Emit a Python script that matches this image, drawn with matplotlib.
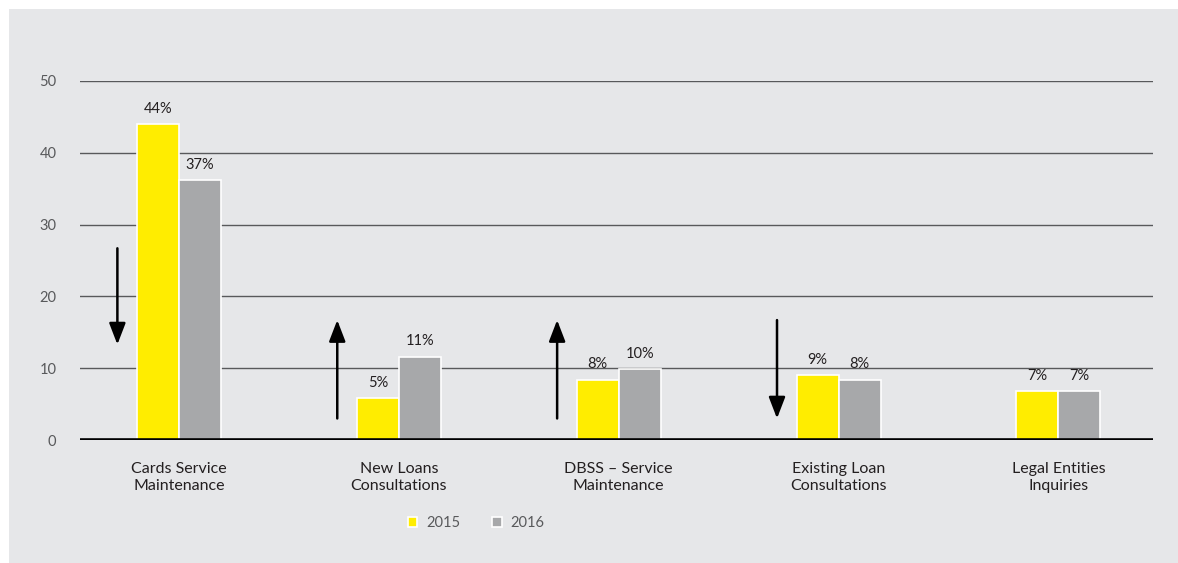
import matplotlib
matplotlib.use("Agg")
import matplotlib.pyplot as plt
from matplotlib.patches import Rectangle
import numpy as np

categories = ["Cards Service\nMaintenance", "New Loans\nConsultations", "DBSS – Service\nMaintenance",
              "Existing Loan\nConsultations", "Legal Entities\nInquiries"]
series_names = ["2015", "2016"]
values_2015 = [44.0, 5.8, 8.4, 9.0, 6.8]
values_2016 = [36.2, 11.6, 9.9, 8.4, 6.8]
labels_2015 = ["44%", "5%", "8%", "9%", "7%"]
labels_2016 = ["37%", "11%", "10%", "8%", "7%"]
# trend arrows: (start, end) in data units, None = no arrow
arrows = [(26.7, 13.3), (3.0, 16.7), (3.0, 16.7), (16.7, 3.0), None]
yticks = [0, 10, 20, 30, 40, 50]

YELLOW = "#ffed00"
GRAY = "#a7a8aa"
BG = "#e6e7e9"
FONT = ["Lato", "DejaVu Sans"]

plt.rcParams["font.family"] = FONT

fig = plt.figure(figsize=(11.78, 5.63), dpi=100)
fig.patch.set_facecolor("white")
bg = Rectangle((9 / 1178, 0), 1 - 9 / 1178, 1 - 9 / 563, transform=fig.transFigure,
               facecolor=BG, edgecolor="none", zorder=-10)
fig.add_artist(bg)

ax = fig.add_axes([80 / 1178, 1 - 440 / 563, (1153 - 80) / 1178, (440 - 81) / 563])
ax.set_facecolor("none")
ax.set_zorder(1)

x = np.arange(len(categories))
w = 0.191
ax.set_xlim(-0.45, 4.43)
ax.set_ylim(0, 50)

for yv in yticks[1:]:
    ax.axhline(yv, color="#58595b", lw=1.0, zorder=1)
ax.axhline(0, color="black", lw=2.6, zorder=4)

b1 = ax.bar(x - w / 2, values_2015, w, color=YELLOW, edgecolor="white", linewidth=1.2, zorder=3, label=series_names[0])
b2 = ax.bar(x + w / 2, values_2016, w, color=GRAY, edgecolor="white", linewidth=1.2, zorder=3, label=series_names[1])

for bars, labs in ((b1, labels_2015), (b2, labels_2016)):
    for r, lab in zip(bars, labs):
        ax.annotate(lab, (r.get_x() + r.get_width() / 2, r.get_height()), xytext=(0, 6),
                    textcoords="offset points", ha="center", va="bottom", fontsize=10.5, color="#231f20")

for xi, arr in zip(x, arrows):
    if arr is None:
        continue
    ax.annotate("", xy=(xi - 0.28, arr[1]), xytext=(xi - 0.28, arr[0]),
                arrowprops=dict(arrowstyle="-|>,head_length=1.3,head_width=0.5", color="black", lw=1.8,
                                shrinkA=0, shrinkB=0), zorder=5)

for s in ax.spines.values():
    s.set_visible(False)
ax.set_yticks(yticks)
ax.set_yticklabels([str(t) for t in yticks], fontsize=10.5, color="#58595b")
ax.tick_params(axis="y", length=0, pad=17)
ax.set_xticks(x)
ax.set_xticklabels(categories, fontsize=11.5, color="#231f20", linespacing=1.3)
ax.tick_params(axis="x", length=0, pad=15.5)

leg = fig.legend(handles=[b1, b2], labels=series_names, loc="center", bbox_to_anchor=(476 / 1178, 1 - 523 / 563),
                 ncol=2, frameon=False, fontsize=10.5, handlelength=0.65, handleheight=0.65, columnspacing=2.2,
                 handletextpad=0.6, labelcolor="#58595b")

fig.savefig("out.png", dpi=100, facecolor=fig.get_facecolor())
